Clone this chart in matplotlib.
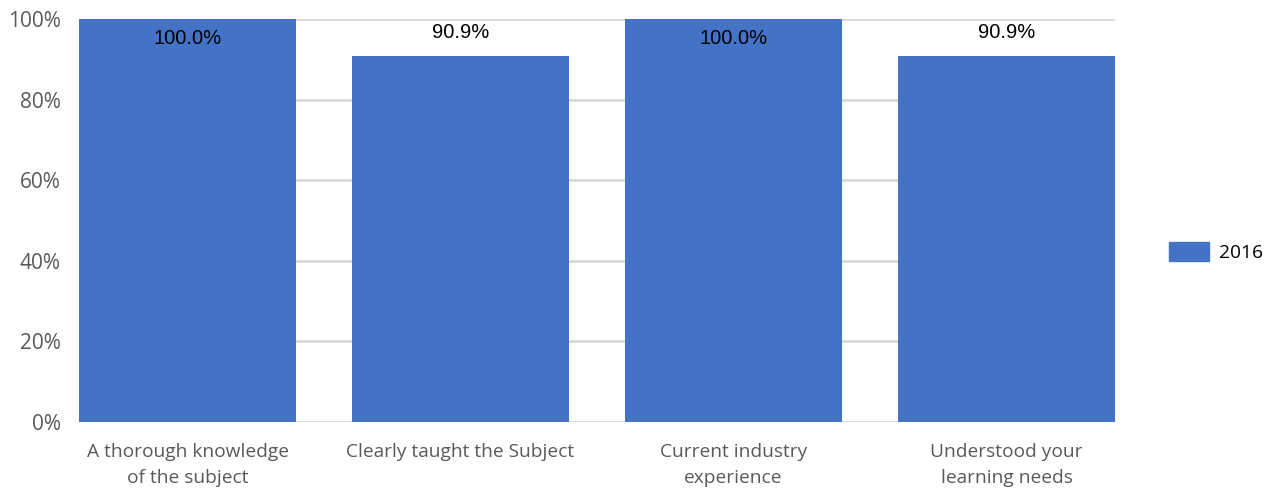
import matplotlib.pyplot as plt
from matplotlib.patches import Patch

categories = ['A thorough knowledge\nof the subject', 'Clearly taught the Subject',
              'Current industry\nexperience', 'Understood your\nlearning needs']
values = [100.0, 90.9, 100.0, 90.9]
series_name = '2016'
yticks = [0, 20, 40, 60, 80, 100]

bar_color = '#4472C4'
grid_color = '#d9d9d9'
tick_color = '#595959'

fig = plt.figure(figsize=(12.75, 4.88), dpi=100)
ax = fig.add_axes([79 / 1275, 1 - 422 / 488, (1115 - 79) / 1275, (422 - 19) / 488])

width = 0.795
x = list(range(len(categories)))
ax.bar(x, values, width=width, color=bar_color, zorder=3)

# value labels: above the bar, or inside when it would spill over the top
for xi, v in zip(x, values):
    if v >= 99:
        ax.annotate(f'{v:.1f}%', (xi, v), xytext=(0, -7.5), textcoords='offset points',
                    ha='center', va='top', fontsize=14.5, family='Liberation Sans',
                    color='black', zorder=4)
    else:
        ax.annotate(f'{v:.1f}%', (xi, v), xytext=(0, 10), textcoords='offset points',
                    ha='center', va='bottom', fontsize=14.5, family='Liberation Sans',
                    color='black', zorder=4)

ax.set_xlim(-width / 2, len(categories) - 1 + width / 2)
ax.set_ylim(0, 100)
ax.set_yticks(yticks)
ax.set_yticklabels([f'{t}%' for t in yticks], fontsize=15, family='Open Sans', color=tick_color)
ax.set_xticks(x)
ax.set_xticklabels(categories, fontsize=13.8, family='Open Sans', color=tick_color, linespacing=1.6)
ax.tick_params(length=0, axis='y', pad=13)
ax.tick_params(length=0, axis='x', pad=15)
ax.yaxis.grid(True, color=grid_color, linewidth=2, zorder=0)
ax.set_axisbelow(True)
for s in ax.spines.values():
    s.set_visible(False)

fig.legend(handles=[Patch(color=bar_color, label=series_name)],
           loc='center left', bbox_to_anchor=(1169 / 1275, 1 - 252 / 488),
           frameon=False, borderpad=0, borderaxespad=0,
           prop={'family': 'Open Sans', 'size': 13.8},
           handlelength=2.1, handleheight=1.1, handletextpad=0.5)

fig.savefig('out.png', dpi=100)
